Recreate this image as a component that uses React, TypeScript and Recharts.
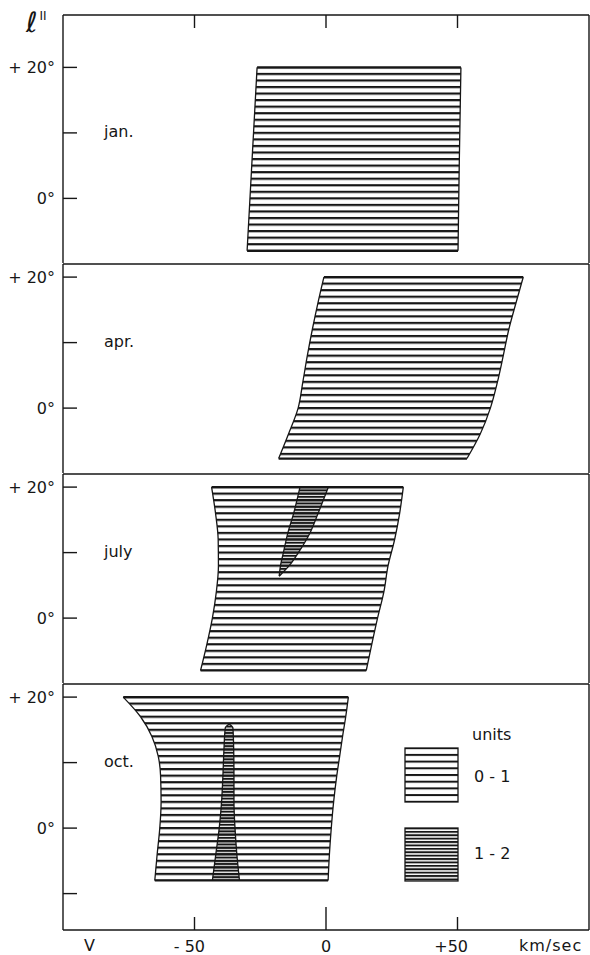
import React from 'react';
import { ComposedChart, Area, Scatter, XAxis, YAxis } from 'recharts';

const W = 590;
const PX_PER_DEG = 6.55;
const INK = '#161616';
const FONT = '"DejaVu Sans", sans-serif';

const V_DOMAIN: [number, number] = [-100, 100];
const V_TICKS = [-50, 0, 50];
const LAT_TICKS = [-10, 0, 10, 20];
const MONTHS = ['jan.', 'apr.', 'july', 'oct.'];
const UNITS = ['0 - 1', '1 - 2'];

// jan.
const janLat = [20, 6, -8];
const janLeft = [-26.2, -28.1, -30.0];
const janRight = [51.3, 50.7, 50.2];

// apr.
const aprLat = [20, 16, 12, 8, 4, 0, -4, -7.7];
const aprLeft = [-0.8, -3.1, -5.2, -7.1, -8.8, -10.6, -14.3, -18.0];
const aprRight = [75.0, 72.2, 69.5, 67.4, 65.2, 62.5, 58.6, 53.6];

// july
const julyLat = [20, 16, 12, 8, 4, 0, -4, -8];
const julyLeft = [-43.5, -42.0, -41.0, -40.9, -41.7, -43.2, -45.3, -47.7];
const julyRight = [29.4, 28.0, 26.1, 23.6, 22.0, 19.6, 17.4, 15.3];
// july, 1-2 units wedge
const julyCoreLat = [20, 16, 13, 10, 8, 6.4];
const julyCoreLeft = [-9.9, -12.3, -14.5, -16.2, -17.3, -17.8];
const julyCoreRight = [0.9, -3.0, -6.1, -10.5, -14.0, -17.8];

// oct.
const octLat = [20, 17, 14, 11, 8, 4, 0, -4, -8];
const octLeft = [-77.1, -70.5, -66.2, -63.8, -62.9, -62.7, -63.2, -64.2, -65.1];
const octRight = [8.5, 7.5, 6.3, 5.2, 4.1, 2.9, 2.0, 1.3, 0.8];
// oct., 1-2 units spike
const octCoreLat = [15.9, 15.3, 12, 8, 4, 0, -4, -8];
const octCoreLeft = [-36.8, -38.3, -38.8, -39.2, -39.7, -40.6, -41.9, -43.2];
const octCoreRight = [-36.8, -35.4, -35.1, -35.0, -35.0, -34.6, -33.9, -32.9];

type Band = { lat: number[]; left: number[]; right: number[] };
type PanelCfg = {
  id: string;
  month: string;
  topDeg: number;
  height: number;
  padTop: number;
  main: Band;
  core?: Band;
  axis?: boolean;
};

const PANELS: PanelCfg[] = [
  { id: 'jan', month: MONTHS[0], topDeg: 28, height: 248, padTop: 15,
    main: { lat: janLat, left: janLeft, right: janRight } },
  { id: 'apr', month: MONTHS[1], topDeg: 22, height: 209, padTop: 1,
    main: { lat: aprLat, left: aprLeft, right: aprRight } },
  { id: 'july', month: MONTHS[2], topDeg: 22, height: 209, padTop: 1,
    main: { lat: julyLat, left: julyLeft, right: julyRight },
    core: { lat: julyCoreLat, left: julyCoreLeft, right: julyCoreRight } },
  { id: 'oct', month: MONTHS[3], topDeg: 22, height: 246, padTop: 1, axis: true,
    main: { lat: octLat, left: octLeft, right: octRight },
    core: { lat: octCoreLat, left: octCoreLeft, right: octCoreRight } },
];

const rows = (b: Band) => b.lat.map((d, i) => ({ lat: d, v: [b.left[i], b.right[i]] }));
const capRows = (b: Band, i: number) => [
  { x: b.left[i], lat: b.lat[i] },
  { x: b.right[i], lat: b.lat[i] },
];

const axisStyle = { stroke: INK, strokeWidth: 1.4 };

const latLabel = (v: number) => (v === 20 ? '+ 20°' : v === 0 ? '0°' : '');

const LeftTick = (props: any) => {
  const { x, y, payload } = props;
  return (
    <g>
      <line x1={x} x2={x + 14} y1={y} y2={y} stroke={INK} strokeWidth={1.4} />
      <text x={x - 8} y={y} dy="0.36em" textAnchor="end" fontSize={16} fontFamily={FONT} fill={INK}>
        {latLabel(payload.value)}
      </text>
    </g>
  );
};

const RightTick = (props: any) => {
  const { x, y } = props;
  return <line x1={x - 12} x2={x} y1={y} y2={y} stroke={INK} strokeWidth={1.4} />;
};

const BottomTick = (props: any) => {
  const { x, y, payload } = props;
  const v = payload.value;
  const len = v === 0 ? 23 : 13;
  const text = v === 0 ? '0' : v < 0 ? `- ${-v}` : `+${v}`;
  return (
    <g>
      <line x1={x} x2={x} y1={y} y2={y - len} stroke={INK} strokeWidth={1.4} />
      <text x={v === 0 ? x : x + 10.5} y={y + 16} dy="0.36em" textAnchor={v === 0 ? 'middle' : 'end'}
        fontSize={16} fontFamily={FONT} fill={INK}>
        {text}
      </text>
    </g>
  );
};

// inward tick rising to the top frame
const TopTickMark = (props: any) => {
  const { cx, cy } = props;
  return <line x1={cx} x2={cx} y1={cy} y2={cy - 13} stroke={INK} strokeWidth={1.4} />;
};

const NoDot = () => <g />;

const textStyle: React.CSSProperties = {
  position: 'absolute',
  fontFamily: FONT,
  fontSize: 16,
  color: INK,
  lineHeight: '20px',
  whiteSpace: 'nowrap',
};

function Panel({ p }: { p: PanelCfg }) {
  const lowDeg = p.topDeg - p.height / PX_PER_DEG;
  const axisH = p.axis ? 25 : 0;
  const topH = p.padTop > 1 ? p.padTop - 1 : 1;
  const h = p.padTop + p.height + axisH;
  const ticks = LAT_TICKS.filter((t) => t > lowDeg + 0.3 && t < p.topDeg);
  const mainRows = rows(p.main);
  const coreRows = p.core ? rows(p.core) : null;
  const last = p.main.lat.length - 1;
  const monthY = p.padTop + (p.topDeg - 10) * PX_PER_DEG;
  const isTop = p.id === 'jan';
  const tickFoot = p.topDeg - 13 / PX_PER_DEG;
  const topTickRows = V_TICKS.map((t) => ({ x: t, lat: tickFoot }));

  return (
    <div style={{ position: 'relative', width: W, height: h }}>
      <ComposedChart layout="vertical" width={W} height={h}
        margin={{ top: p.padTop - topH, right: 0, bottom: 0, left: 0 }}>
        <defs>
          <pattern id={`sparse-${p.id}`} patternUnits="userSpaceOnUse" x={0} y={p.padTop - 1.1}
            width={10} height={PX_PER_DEG}>
            <rect x={0} y={0} width={10} height={2.2} fill={INK} />
          </pattern>
          <pattern id={`dense-${p.id}`} patternUnits="userSpaceOnUse" x={0} y={p.padTop - 1}
            width={10} height={PX_PER_DEG / 2}>
            <rect x={0} y={0} width={10} height={2} fill={INK} />
          </pattern>
        </defs>
        <XAxis xAxisId="v" dataKey="x" type="number" orientation="top" domain={V_DOMAIN} ticks={V_TICKS}
          interval={0} height={topH} tickSize={0} tickMargin={0} tickLine={false}
          axisLine={axisStyle} tick={false} allowDataOverflow />
        {p.axis && (
          <XAxis xAxisId="b" type="number" orientation="bottom" domain={V_DOMAIN} ticks={V_TICKS}
            interval={0} height={axisH} tickSize={0} tickMargin={0} tickLine={false}
            axisLine={axisStyle} tick={<BottomTick />} allowDataOverflow />
        )}
        <YAxis yAxisId="lat" type="number" dataKey="lat" orientation="left" reversed
          domain={[lowDeg, p.topDeg]} ticks={ticks} interval={0} width={63} tickSize={0}
          tickMargin={0} tickLine={false} axisLine={axisStyle} tick={<LeftTick />} allowDataOverflow />
        <YAxis yAxisId="r" type="number" orientation="right" reversed
          domain={[lowDeg, p.topDeg]} ticks={ticks} interval={0} width={1} tickSize={0}
          tickMargin={0} tickLine={false} axisLine={axisStyle} tick={<RightTick />} allowDataOverflow />
        <Area xAxisId="v" yAxisId="lat" data={mainRows} dataKey="v" type="monotone"
          stroke={INK} strokeWidth={1.3} fill={`url(#sparse-${p.id})`} fillOpacity={1}
          dot={false} activeDot={false} isAnimationActive={false} />
        {coreRows && (
          <Area xAxisId="v" yAxisId="lat" data={coreRows} dataKey="v" type="monotone"
            stroke={INK} strokeWidth={1.3} fill={`url(#dense-${p.id})`} fillOpacity={1}
            dot={false} activeDot={false} isAnimationActive={false} />
        )}
        <Scatter xAxisId="v" yAxisId="lat" data={capRows(p.main, 0)} shape={<NoDot />}
          line={{ stroke: INK, strokeWidth: 2.2 }} isAnimationActive={false} />
        <Scatter xAxisId="v" yAxisId="lat" data={capRows(p.main, last)} shape={<NoDot />}
          line={{ stroke: INK, strokeWidth: 2.2 }} isAnimationActive={false} />
        {isTop && (
          <Scatter xAxisId="v" yAxisId="lat" data={topTickRows} shape={<TopTickMark />}
            isAnimationActive={false} />
        )}
      </ComposedChart>

      <span style={{ ...textStyle, left: 104, top: monthY - 11 }}>{p.month}</span>

      {isTop && (
        <span style={{ ...textStyle, left: 26, top: 9, fontSize: 28, lineHeight: '28px', fontStyle: 'italic' }}>
          ℓ<span style={{ fontSize: 12, position: 'relative', top: -12, fontStyle: 'normal', marginLeft: 2 }}>II</span>
        </span>
      )}

      {p.axis && (
        <>
          <span style={{ ...textStyle, left: 84, top: h - 19 }}>V</span>
          <span style={{ ...textStyle, left: 519, top: h - 19, letterSpacing: 1 }}>km/sec</span>
          <span style={{ ...textStyle, left: 472, top: 42 }}>units</span>
          <span style={{ ...textStyle, left: 474, top: 84 }}>{UNITS[0]}</span>
          <span style={{ ...textStyle, left: 474, top: 161 }}>{UNITS[1]}</span>
          <svg style={{ position: 'absolute', left: 404, top: 64 }} width={56} height={136}>
            <defs>
              <pattern id="leg-sparse" patternUnits="userSpaceOnUse" x={0} y={0.2} width={10} height={6.7}>
                <rect x={0} y={0} width={10} height={2} fill={INK} />
              </pattern>
              <pattern id="leg-dense" patternUnits="userSpaceOnUse" x={0} y={80.5} width={10} height={3.4}>
                <rect x={0} y={0} width={10} height={1.9} fill={INK} />
              </pattern>
            </defs>
            <rect x={1} y={1} width={53} height={54} fill="url(#leg-sparse)" stroke={INK} strokeWidth={1.3} />
            <rect x={1} y={81} width={53} height={53} fill="url(#leg-dense)" stroke={INK} strokeWidth={1.3} />
          </svg>
        </>
      )}
    </div>
  );
}

export default function App() {
  return (
    <div style={{ position: 'absolute', left: 0, top: 0, width: W, height: 955, background: '#fff' }}>
      {PANELS.map((p) => (
        <Panel key={p.id} p={p} />
      ))}
    </div>
  );
}
